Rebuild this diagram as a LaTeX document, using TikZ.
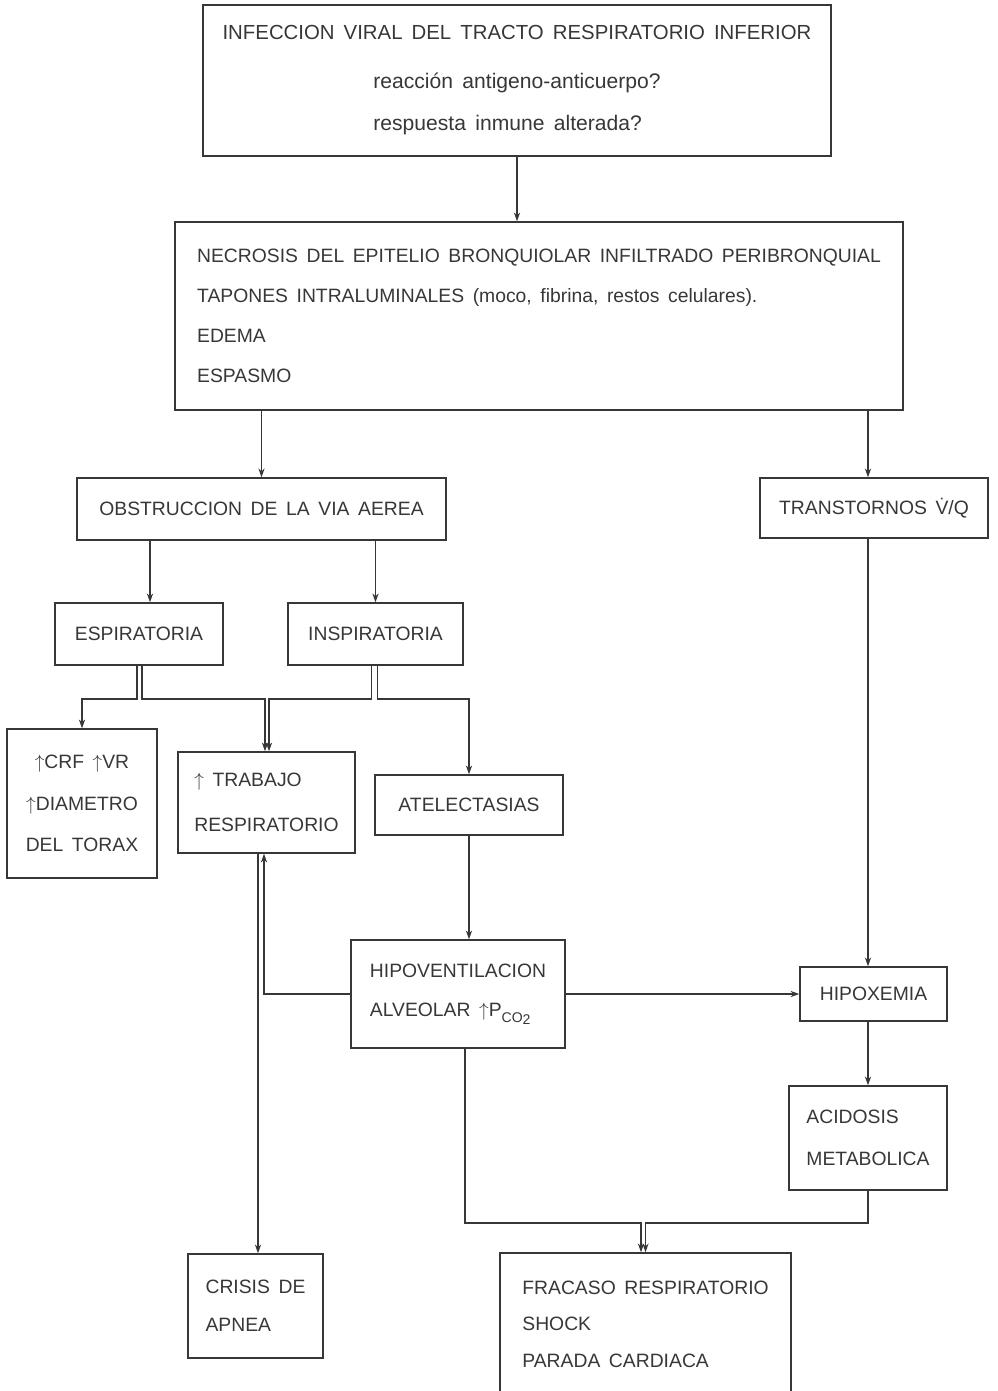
\documentclass[tikz,border=0pt]{standalone}
\usepackage{fontspec}
\setmainfont{Liberation Sans}[WordSpace=1.6]
\usetikzlibrary{arrows.meta}
\definecolor{ink}{RGB}{55,55,55}
\tikzset{
  box/.style={draw=ink, text=ink, line width=0.8pt, inner sep=0pt, align=left,
    font=\fontsize{11}{22}\selectfont},
  link/.style={draw=ink, line width=0.8pt, -{Stealth[length=5pt,width=3.5pt]}},
}
\begin{document}
\begin{tikzpicture}[x=0.02cm,y=-0.02cm]
  \useasboundingbox (0,0) rectangle (997,1391);
  % boxes (centres given in sheet pixels)
  \node[box,align=center,minimum width=12.56cm,minimum height=3.02cm,
    font=\fontsize{12}{24.4}\selectfont] (infec) at (517,80.5)
    {{\fontsize{11.6}{24.4}\selectfont INFECCION VIRAL DEL TRACTO RESPIRATORIO INFERIOR}\\[3pt]
     reacción antigeno-anticuerpo?\\
     \rlap{respuesta inmune alterada?}\phantom{reacción antigeno-anticuerpo?}};
  \node[box,minimum width=14.56cm,minimum height=3.76cm,
    font=\fontsize{11}{22.7}\selectfont] (necro) at (539,316)
    {NECROSIS DEL EPITELIO BRONQUIOLAR INFILTRADO PERIBRONQUIAL\\
     TAPONES INTRALUMINALES (moco, fibrina, restos celulares).\\
     EDEMA\\
     ESPASMO};
  \node[box,minimum width=7.38cm,minimum height=1.24cm] (obstr) at (261.5,509)
    {OBSTRUCCION DE LA VIA AEREA};
  \node[box,minimum width=4.56cm,minimum height=1.2cm] (vq) at (874,508)
    {TRANSTORNOS \.{V}/Q};
  \node[box,minimum width=3.36cm,minimum height=1.24cm] (espir) at (139,634)
    {ESPIRATORIA};
  \node[box,minimum width=3.5cm,minimum height=1.24cm] (inspir) at (375.5,634)
    {INSPIRATORIA};
  \node[box,align=center,minimum width=3.0cm,minimum height=2.98cm,
    font=\fontsize{11}{23.8}\selectfont] (crf) at (82,803.5)
    {$\uparrow$CRF $\uparrow$VR\\ $\uparrow$DIAMETRO\\ DEL TORAX};
  \node[box,minimum width=3.54cm,minimum height=2.02cm,
    font=\fontsize{11}{25.6}\selectfont] (trab) at (266.5,802.5)
    {$\uparrow$ TRABAJO\\ RESPIRATORIO};
  \node[box,minimum width=3.76cm,minimum height=1.2cm] (atel) at (469,805)
    {ATELECTASIAS};
  \node[box,minimum width=4.28cm,minimum height=2.16cm,
    font=\fontsize{11}{22.2}\selectfont] (hipov) at (458,994)
    {HIPOVENTILACION\\ ALVEOLAR $\uparrow$P\raisebox{-0.6ex}{\fontsize{8}{8}\selectfont CO\raisebox{-0.3ex}{2}}};
  \node[box,minimum width=2.94cm,minimum height=1.08cm] (hipox) at (873.5,994)
    {HIPOXEMIA};
  \node[box,minimum width=3.16cm,minimum height=2.08cm,
    font=\fontsize{11}{23.9}\selectfont] (acid) at (868,1138)
    {ACIDOSIS\\ METABOLICA};
  \node[box,minimum width=2.7cm,minimum height=2.08cm,
    font=\fontsize{11}{21.6}\selectfont] (crisis) at (255.5,1306)
    {CRISIS DE\\ APNEA};
  \node[box,minimum width=5.82cm,minimum height=2.84cm,
    font=\fontsize{11}{20.8}\selectfont] (fracaso) at (645.5,1324)
    {FRACASO RESPIRATORIO\\ SHOCK\\ PARADA CARDIACA};
  % levels of the split lines
  \coordinate (lvlA) at (0,699);
  \coordinate (lvlB) at (0,1223);
  % connectors
  \draw[link] (infec.south) -- (infec.south |- necro.north);
  \draw[link] (obstr.north |- necro.south) -- (obstr.north);
  \draw[link] ([xshift=-0.12cm]vq.north |- necro.south) -- ([xshift=-0.12cm]vq.north);
  \draw[link] ([xshift=0.22cm]espir.north |- obstr.south) -- ([xshift=0.22cm]espir.north);
  \draw[link] (inspir.north |- obstr.south) -- (inspir.north);
  \draw[link] ([xshift=-0.04cm]espir.south) |- (crf.north |- lvlA) -- (crf.north);
  \draw[link] ([xshift=0.06cm]espir.south) |- ([xshift=-0.03cm]trab.north |- lvlA)
    -- ([xshift=-0.03cm]trab.north);
  \draw[link] ([xshift=-0.08cm]inspir.south) |- ([xshift=0.05cm]trab.north |- lvlA)
    -- ([xshift=0.05cm]trab.north);
  \draw[link] ([xshift=0.04cm]inspir.south) |- (atel.north |- lvlA) -- (atel.north);
  \draw[link] (atel.south) -- (atel.south |- hipov.north);
  \draw[link] (hipov.west) -| ([xshift=-0.05cm]trab.south);
  \draw[link] ([xshift=-0.17cm]trab.south) -- ([xshift=-0.17cm]trab.south |- crisis.north);
  \draw[link] (hipov.east) -- (hipox.west);
  \draw[link] ([xshift=-0.12cm]vq.south) -- ([xshift=-0.12cm]vq.south |- hipox.north);
  \draw[link] (acid.north |- hipox.south) -- (acid.north);
  \draw[link] ([xshift=0.14cm]hipov.south) |- ([xshift=-0.09cm]fracaso.north |- lvlB)
    -- ([xshift=-0.09cm]fracaso.north);
  \draw[link] (acid.south) |- (fracaso.north |- lvlB) -- (fracaso.north);
\end{tikzpicture}
\end{document}
